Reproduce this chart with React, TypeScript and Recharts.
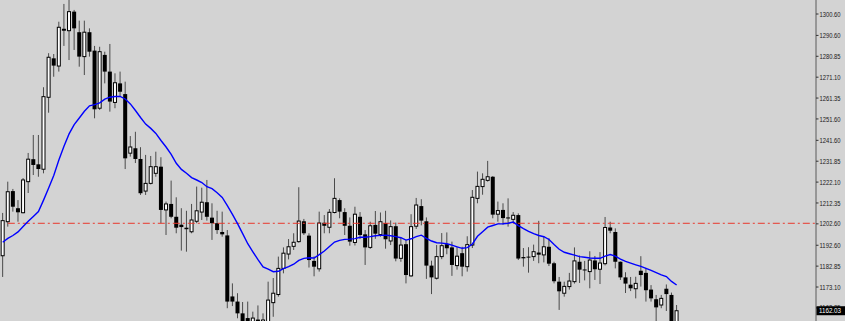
import { ComposedChart, Bar, Line, XAxis, YAxis, ReferenceLine } from 'recharts';

// candle values, oldest first
const opens = [
  1187.7, 1203.6, 1217.9, 1209.9, 1207.8, 1222.3, 1232.8, 1230.4, 1228.1, 1261.7,
  1279.9, 1276.3, 1293.7, 1292.8, 1301.7, 1292.1, 1280.7, 1292.1, 1283.5, 1256.6,
  1281.5, 1273.7, 1259.3, 1268.2, 1263.2, 1235.6, 1237.9, 1232.9, 1217.9, 1221.5,
  1226.2, 1229.3, 1209.1, 1211.9, 1205.9, 1202.2, 1200.8, 1198.9, 1203.8, 1208.1,
  1212.7, 1205.5, 1202.9, 1198.8, 1197.2, 1168.7, 1166.3, 1160.8, 1158.6, 1155.4,
  1157.9, 1154.0, 1155.5, 1165.8, 1169.6, 1181.8, 1188.5, 1192.1, 1194.3, 1203.8,
  1197.1, 1185.3, 1181.6, 1203.1, 1201.0, 1207.9, 1213.7, 1208.1, 1201.7, 1193.9,
  1205.9, 1197.7, 1191.6, 1202.1, 1197.6, 1203.0, 1194.6, 1201.5, 1186.5, 1193.1,
  1178.3, 1201.5, 1210.9, 1203.8, 1183.1, 1177.2, 1187.3, 1193.1, 1191.6, 1183.1,
  1188.9, 1182.6, 1192.7, 1214.5, 1220.0, 1222.9, 1224.6, 1207.1, 1209.1, 1205.6,
  1204.7, 1206.7, 1187.1, 1187.3, 1187.3, 1189.2, 1188.1, 1191.9, 1184.2, 1175.6,
  1170.2, 1173.3, 1175.6, 1184.9, 1181.3, 1180.3, 1185.5, 1181.4, 1184.0, 1200.9,
  1198.8, 1184.9, 1177.6, 1174.2, 1172.3, 1180.7, 1179.7, 1171.9, 1167.4, 1164.7,
  1172.3, 1169.4, 1155.4,
];

const highs = [
  1207.7, 1222.3, 1218.9, 1213.7, 1224.0, 1235.7, 1244.1, 1244.1, 1266.4, 1282.3,
  1281.9, 1297.0, 1305.3, 1308.0, 1302.5, 1297.5, 1297.5, 1293.9, 1285.7, 1285.3,
  1283.0, 1286.6, 1272.9, 1273.7, 1269.0, 1243.6, 1245.6, 1238.4, 1234.8, 1234.3,
  1236.3, 1233.7, 1213.0, 1222.8, 1215.0, 1209.9, 1208.7, 1211.9, 1220.0, 1219.5,
  1223.1, 1212.2, 1208.7, 1208.3, 1199.7, 1174.8, 1170.2, 1166.1, 1166.3, 1161.6,
  1164.5, 1160.8, 1175.6, 1177.3, 1187.3, 1191.6, 1195.5, 1198.2, 1219.7, 1204.9,
  1198.2, 1187.4, 1208.3, 1206.7, 1209.5, 1223.9, 1214.5, 1209.9, 1205.6, 1210.6,
  1208.1, 1199.7, 1203.6, 1208.6, 1207.9, 1208.7, 1204.2, 1203.2, 1196.3, 1195.1,
  1207.1, 1214.7, 1214.1, 1205.6, 1185.4, 1192.7, 1198.3, 1198.6, 1194.3, 1191.7,
  1191.9, 1196.8, 1218.4, 1227.0, 1226.2, 1232.0, 1224.9, 1213.0, 1212.2, 1214.5,
  1208.1, 1207.5, 1191.3, 1191.7, 1192.9, 1204.0, 1196.7, 1195.9, 1184.9, 1177.8,
  1175.6, 1179.7, 1191.6, 1187.8, 1185.3, 1189.8, 1187.6, 1189.4, 1205.8, 1203.6,
  1200.5, 1185.0, 1180.0, 1177.8, 1177.9, 1187.5, 1182.0, 1174.0, 1169.4, 1169.4,
  1174.3, 1170.5, 1164.7,
];

const lows = [
  1177.8, 1201.3, 1208.3, 1203.6, 1207.5, 1217.0, 1225.4, 1224.6, 1226.2, 1254.5,
  1271.3, 1273.7, 1285.7, 1279.1, 1283.8, 1276.0, 1272.1, 1280.7, 1251.9, 1255.8,
  1268.2, 1255.0, 1256.6, 1262.0, 1228.2, 1234.0, 1231.0, 1216.1, 1216.1, 1221.0,
  1224.6, 1202.9, 1197.4, 1205.2, 1198.2, 1190.1, 1189.6, 1198.2, 1202.9, 1204.4,
  1204.1, 1195.1, 1197.9, 1196.6, 1163.2, 1164.2, 1158.5, 1153.0, 1150.7, 1153.0,
  1151.6, 1150.7, 1154.0, 1159.2, 1168.6, 1179.5, 1186.0, 1190.4, 1193.8, 1197.4,
  1182.2, 1178.1, 1180.3, 1198.2, 1198.2, 1207.5, 1205.2, 1197.4, 1192.4, 1192.5,
  1195.5, 1183.4, 1190.9, 1195.6, 1196.6, 1191.0, 1192.7, 1185.1, 1184.9, 1174.8,
  1177.9, 1200.2, 1201.9, 1176.9, 1169.8, 1176.6, 1186.1, 1188.4, 1178.3, 1181.2,
  1178.1, 1180.3, 1191.3, 1212.2, 1216.2, 1222.3, 1205.2, 1203.6, 1202.2, 1201.3,
  1203.1, 1185.7, 1182.6, 1179.8, 1185.3, 1184.2, 1184.6, 1182.9, 1174.8, 1162.4,
  1168.6, 1171.9, 1174.7, 1175.0, 1176.2, 1172.5, 1176.4, 1174.5, 1183.2, 1198.2,
  1181.8, 1176.4, 1170.3, 1171.2, 1167.8, 1173.3, 1166.3, 1166.3, 1153.0, 1163.2,
  1161.9, 1153.0, 1153.0,
];

const closes = [
  1204.1, 1217.6, 1210.6, 1208.0, 1223.1, 1232.8, 1230.1, 1228.2, 1262.0, 1280.4,
  1276.5, 1294.4, 1292.8, 1301.7, 1293.9, 1280.7, 1292.1, 1283.0, 1256.1, 1283.0,
  1273.7, 1259.7, 1268.5, 1264.3, 1233.2, 1238.5, 1232.9, 1216.9, 1221.5, 1229.3,
  1229.3, 1209.1, 1211.9, 1205.9, 1200.8, 1201.1, 1200.1, 1204.4, 1208.7, 1212.7,
  1205.9, 1202.9, 1199.7, 1197.7, 1166.3, 1166.3, 1160.8, 1154.9, 1155.4, 1158.6,
  1154.0, 1157.7, 1167.0, 1170.2, 1181.8, 1188.9, 1191.9, 1194.0, 1203.9, 1198.2,
  1185.7, 1182.6, 1203.0, 1201.7, 1208.0, 1214.5, 1208.3, 1201.7, 1194.3, 1207.1,
  1197.4, 1191.6, 1201.7, 1198.0, 1203.6, 1195.4, 1201.3, 1186.4, 1192.7, 1178.7,
  1201.3, 1211.4, 1204.1, 1183.1, 1177.6, 1187.3, 1192.4, 1191.2, 1183.4, 1187.5,
  1182.6, 1192.9, 1215.0, 1220.1, 1223.4, 1224.6, 1206.9, 1208.8, 1205.3, 1205.1,
  1206.6, 1186.4, 1186.5, 1187.0, 1189.6, 1188.2, 1191.9, 1184.0, 1175.8, 1171.1,
  1173.4, 1175.9, 1185.3, 1181.2, 1181.1, 1185.7, 1181.4, 1184.3, 1200.9, 1199.4,
  1184.9, 1177.6, 1174.7, 1172.5, 1174.8, 1178.7, 1171.6, 1167.8, 1163.6, 1167.8,
  1169.8, 1154.9, 1162.03,
];

// blue moving average
const maValues = [
  1193.99, 1195.81, 1197.16, 1198.84, 1201.36, 1203.79, 1206.08, 1208.32, 1213.69, 1219.34,
  1225.18, 1232.42, 1238.86, 1244.61, 1248.95, 1252.03, 1255.16, 1257.73, 1258.29, 1259.13,
  1260.86, 1261.75, 1262.07, 1262.12, 1260.91, 1258.62, 1255.54, 1252.27, 1249.19, 1247.18,
  1244.84, 1241.53, 1238.49, 1235.08, 1230.88, 1228.03, 1226.21, 1224.2, 1223.08, 1221.91,
  1219.95, 1219.06, 1217.15, 1214.95, 1211.12, 1207.06, 1202.72, 1198.05, 1193.33, 1189.55,
  1185.86, 1182.5, 1181.42, 1180.26, 1180.44, 1181.66, 1182.64, 1183.76, 1185.53, 1186.47,
  1186.75, 1186.65, 1188.24, 1189.92, 1191.98, 1194.08, 1194.87, 1195.34, 1195.48, 1195.71,
  1196.32, 1196.32, 1196.65, 1197.07, 1197.21, 1197.35, 1197.02, 1196.65, 1196.13, 1195.01,
  1195.62, 1196.65, 1197.3, 1195.81, 1194.59, 1193.8, 1193.61, 1193.29, 1192.63, 1191.88,
  1191.18, 1191.51, 1193.19, 1196.79, 1198.94, 1201.04, 1201.83, 1202.58, 1202.67, 1202.91,
  1203.42, 1201.78, 1200.38, 1199.12, 1198.0, 1197.16, 1196.6, 1195.29, 1192.91, 1190.72,
  1189.32, 1188.62, 1187.96, 1187.31, 1186.98, 1186.65, 1186.51, 1186.51, 1187.54, 1188.24,
  1187.49, 1186.14, 1185.07, 1184.27, 1183.48, 1182.73, 1181.8, 1180.86, 1179.79, 1178.76,
  1177.97, 1175.73, 1174.04,
];

const priceTicks = [
  1300.6, 1290.6, 1280.85, 1271.1, 1261.35, 1251.6, 1241.6, 1231.85,
  1222.1, 1212.35, 1202.6, 1192.6, 1182.85, 1173.1, 1163.35,
];
const lastPrice = 1162.03;
const levelPrice = 1202.86;
const levelStartBar = 1;

const priceDomain = [1157.23, 1307.14];
const barDomain = [-0.53, 159.3];

const data = opens.map((o, i) => ({
  i,
  open: o,
  high: highs[i],
  low: lows[i],
  close: closes[i],
  ma: maValues[i],
}));

function Candle(props: any) {
  const { x, y, width, height, payload } = props;
  const { open, high, low, close } = payload;
  const cx = x + width / 2;
  const k = height / (high - low);
  const top = y + (high - Math.max(open, close)) * k;
  const bot = y + (high - Math.min(open, close)) * k;
  const bh = Math.max(bot - top, 1);
  const up = close >= open;
  return (
    <g>
      <line x1={cx} x2={cx} y1={y} y2={y + height} stroke="#4a4a4a" strokeWidth={1} />
      {up ? (
        <rect x={cx - 1.5} y={top} width={3} height={bh} fill="#fff" stroke="#000" strokeWidth={1} />
      ) : (
        <rect x={cx - 2} y={top} width={4} height={bh} fill="#000" />
      )}
    </g>
  );
}

function PriceTick(props: any) {
  const { x, y, payload } = props;
  const v = payload.value;
  const label = v.toFixed(2);
  if (v === lastPrice) {
    return (
      <g>
        <rect x={x + 0.5} y={y - 4.5} width={29} height={9} fill="#000" />
        <text x={x + 3} y={y} dy={2.6} fill="#fff" fontSize={7} fontFamily="Liberation Sans"
          textLength={22} lengthAdjust="spacingAndGlyphs" textAnchor="start">{label}</text>
      </g>
    );
  }
  return (
    <g>
      <line x1={x} x2={x + 2.5} y1={y} y2={y} stroke="#333" strokeWidth={1} />
      <text x={x + 3.5} y={y} dy={2.6} fill="#1a1a1a" fontSize={7} fontFamily="Liberation Sans"
        textLength={21} lengthAdjust="spacingAndGlyphs" textAnchor="start">{label}</text>
    </g>
  );
}

export default function App() {
  return (
    <div style={{ position: 'absolute', left: 0, top: 0, width: 845, height: 321, background: '#d3d3d3' }}>
      <ComposedChart width={845} height={321} data={data} margin={{ top: 0, right: 0, bottom: 0, left: 0 }}>
        <XAxis dataKey="i" type="number" domain={barDomain} allowDataOverflow hide />
        <YAxis
          orientation="right"
          width={29}
          domain={priceDomain}
          allowDataOverflow
          ticks={[...priceTicks, lastPrice]}
          interval={0}
          tick={PriceTick}
          tickLine={false}
          tickSize={0}
          tickMargin={0}
          axisLine={{ stroke: '#5a5a5a' }}
        />
        <ReferenceLine
          segment={[{ x: levelStartBar, y: levelPrice }, { x: barDomain[1], y: levelPrice }]}
          stroke="#e8382c"
          strokeDasharray="7 3 2 3"
          ifOverflow="visible"
        />
        <Bar dataKey={(d: any) => [d.low, d.high]} shape={Candle} barSize={5} isAnimationActive={false} />
        <Line dataKey="ma" type="linear" stroke="#0000ff" strokeWidth={1.4} dot={false} activeDot={false} isAnimationActive={false} />
      </ComposedChart>
    </div>
  );
}
